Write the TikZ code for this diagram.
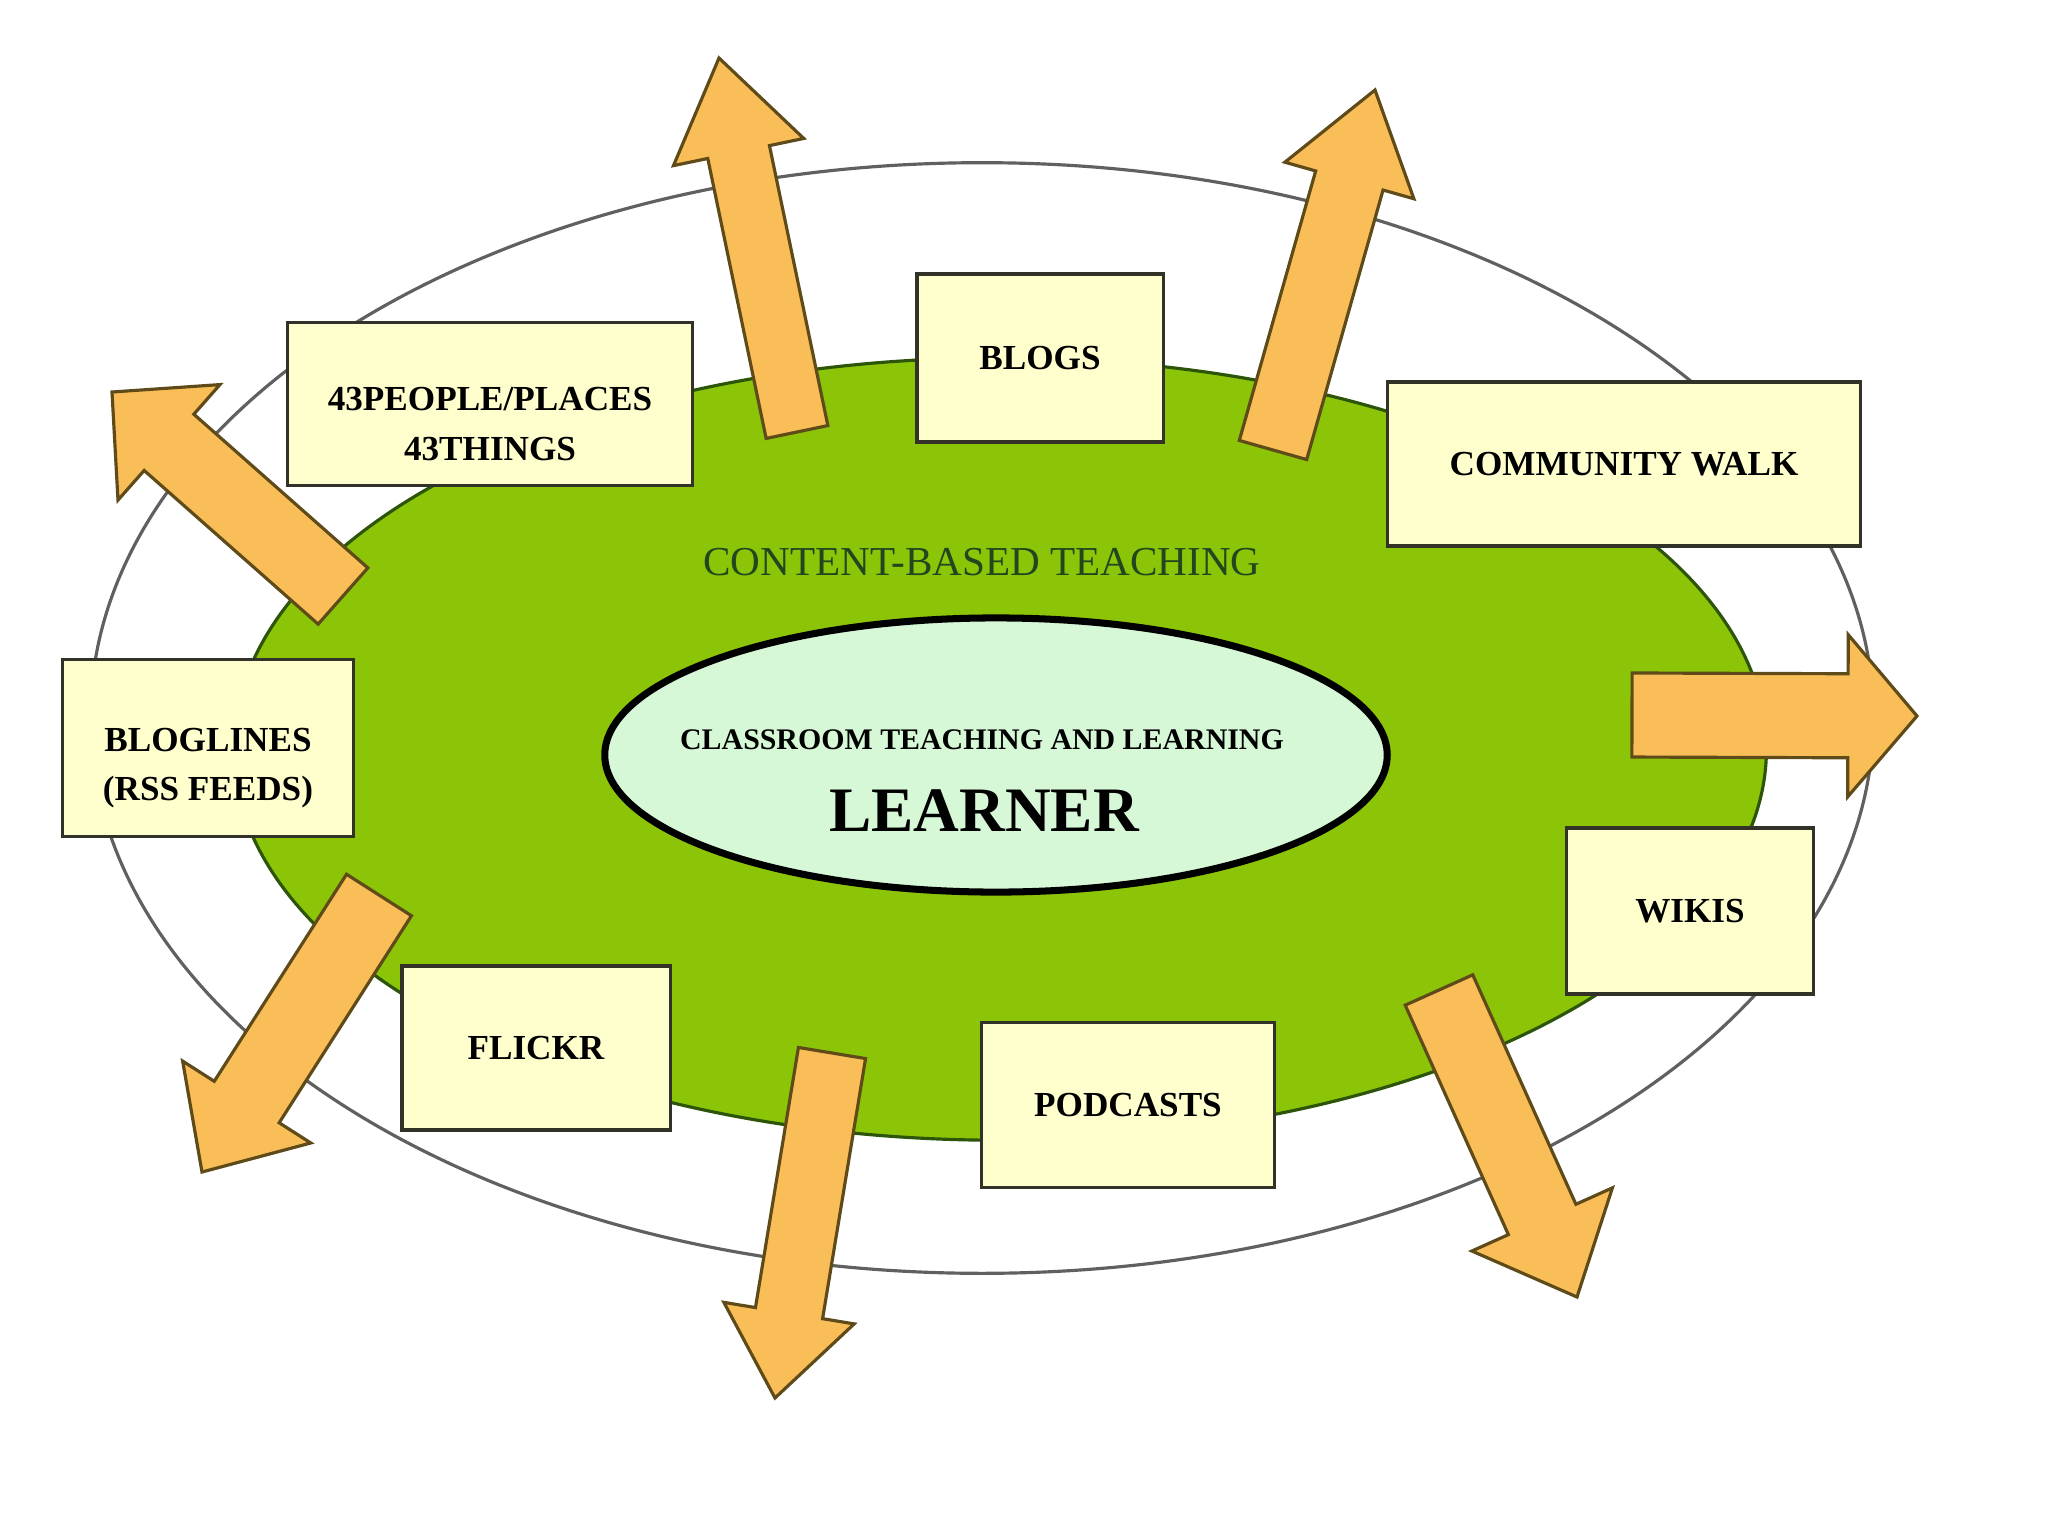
\documentclass[tikz,border=0pt]{standalone}
\usepackage{fontspec}
\setmainfont{Liberation Serif}
\usepackage{xcolor}
\usetikzlibrary{calc}

\definecolor{leafgreen}{RGB}{140,196,8}
\definecolor{leafedge}{RGB}{45,85,10}
\definecolor{mint}{RGB}{214,248,214}
\definecolor{cream}{RGB}{255,255,206}
\definecolor{boxedge}{RGB}{50,50,40}
\definecolor{peach}{RGB}{250,190,88}
\definecolor{peachedge}{RGB}{95,75,25}
\definecolor{darkleaf}{RGB}{35,70,30}

% block arrow: tail, tip, half shaft, half head, head length
\newcommand{\outarrow}[5]{%
  \coordinate (#1h) at ($(#2)!#5!(#1)$);
  \draw[outarr] ($(#1)!#3!90:(#2)$) -- ($(#1h)!#3!90:(#2)$) -- ($(#1h)!#4!90:(#2)$)
    -- (#2) -- ($(#1h)!#4!-90:(#2)$) -- ($(#1h)!#3!-90:(#2)$) -- ($(#1)!#3!-90:(#2)$) -- cycle;
}

\begin{document}
\begin{tikzpicture}[x=0.01cm,y=-0.01cm,
  card/.style={draw=boxedge,fill=cream,line width=0.9pt,inner sep=0pt,font=\fontsize{10}{14}\selectfont\bfseries,align=center},
  cardtext/.style={font=\fontsize{10}{14}\selectfont\bfseries,align=center},
  outarr/.style={draw=peachedge,fill=peach,line width=0.9pt,line join=miter}
]
\useasboundingbox (0,0) rectangle (2048,1536);
\fill[white] (0,0) rectangle (2048,1536);
% rings
\draw[gray!75!black,line width=0.9pt,fill=white] (982,718) ellipse [x radius=8.91cm,y radius=5.55cm];
\draw[leafedge,fill=leafgreen,line width=0.9pt] (1000,749) ellipse [x radius=7.66cm,y radius=3.91cm];

% arrows going out
\coordinate (t1) at (797,432);  \coordinate (p1) at (719,58);
\coordinate (t2) at (1273,450); \coordinate (p2) at (1375,90);
\coordinate (t3) at (343,596);  \coordinate (p3) at (112,392);
\coordinate (t4) at (1632,715); \coordinate (p4) at (1917,716);
\coordinate (t5) at (379,895);  \coordinate (p5) at (202,1172);
\coordinate (t6) at (832,1053); \coordinate (p6) at (775,1398);
\coordinate (t7) at (1439,990); \coordinate (p7) at (1577,1297);
\outarrow{t1}{p1}{0.315cm}{0.665cm}{0.96cm}
\outarrow{t2}{p2}{0.35cm}{0.67cm}{0.94cm}
\outarrow{t3}{p3}{0.375cm}{0.77cm}{0.76cm}
\outarrow{t4}{p4}{0.42cm}{0.81cm}{0.69cm}
\outarrow{t5}{p5}{0.385cm}{0.76cm}{0.83cm}
\outarrow{t6}{p6}{0.34cm}{0.66cm}{0.86cm}
\outarrow{t7}{p7}{0.37cm}{0.77cm}{0.85cm}

% tool boxes
\node[card,minimum width=4.04cm,minimum height=1.63cm] (people) at (490,404) {};
\node[cardtext] (peopletxt) at ([yshift=-0.2cm]people.center) {43PEOPLE/PLACES\\43THINGS};
\node[card,minimum width=2.46cm,minimum height=1.68cm] (blogs) at (1040,358) {BLOGS};
\node[card,minimum width=4.72cm,minimum height=1.64cm] (walk) at (1624,464) {COMMUNITY WALK};
\node[card,minimum width=2.91cm,minimum height=1.77cm] (bloglines) at (208,748) {};
\node[cardtext] (bloglinestxt) at ([yshift=-0.2cm]bloglines.center) {BLOGLINES\\(RSS FEEDS)};
\node[card,minimum width=2.47cm,minimum height=1.66cm] (wikis) at (1690,911) {WIKIS};
\node[card,minimum width=2.68cm,minimum height=1.64cm] (flickr) at (536,1048) {FLICKR};
\node[card,minimum width=2.93cm,minimum height=1.65cm] (podcasts) at (1128,1105) {PODCASTS};

% centre
\node[font=\fontsize{11.7}{14}\selectfont,text=darkleaf] (content) at (982,562) {CONTENT-BASED TEACHING};
\draw[black,fill=mint,line width=2pt] (996,755) ellipse [x radius=3.91cm,y radius=1.37cm];
\node[font=\fontsize{8.5}{10}\selectfont\bfseries] (classroom) at (982,740) {CLASSROOM TEACHING AND LEARNING};
\node[font=\fontsize{18}{20}\selectfont\bfseries] (learner) at (984,811) {LEARNER};
\end{tikzpicture}
\end{document}
